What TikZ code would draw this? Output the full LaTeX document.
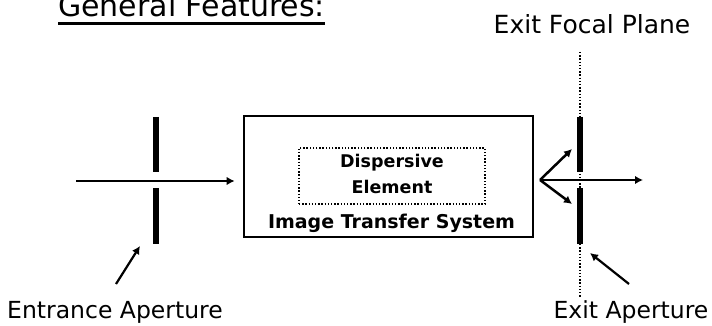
\documentclass[tikz,border=0pt]{standalone}
\usepackage{fontspec}
\setmainfont{DejaVu Sans}
\usetikzlibrary{arrows.meta}
\begin{document}
\begin{tikzpicture}[x=1pt,y=-1pt,
  ray/.style={line width=2.5pt,-{Latex[length=8pt,width=8.5pt]}},
  pointer/.style={line width=2.2pt,-{Latex[length=8pt,width=8.5pt]}},
  slitbar/.style={line width=6pt},
  biglabel/.style={font=\fontsize{23.5}{28}\selectfont, inner sep=0pt},
  boxlabel/.style={font=\fontsize{17.5}{21}\selectfont\bfseries, inner sep=0pt},
  finedots/.style={line width=1.4pt, dash pattern=on 1.4pt off 1.8pt}]
\useasboundingbox (0,0) rectangle (712,326);

% heading
\node[font=\fontsize{30}{36}\selectfont, inner sep=0pt, anchor=base west] (title) at (58,17) {General Features:};
\draw[line width=3pt] ([yshift=-6.5pt]title.base west) -- ([yshift=-6.5pt]title.base east);

% exit focal plane
\node[biglabel, font=\fontsize{25}{30}\selectfont] (efp) at (592,24) {Exit Focal Plane};
\coordinate (planetop) at (580,52);
\coordinate (planebot) at (580,297);
\draw[finedots] (planetop) -- (planebot);

% entrance aperture (slit)
\coordinate (ent1) at (156,117);
\coordinate (ent2) at (156,172);
\coordinate (ent3) at (156,188);
\coordinate (ent4) at (156,244);
\draw[slitbar] (ent1) -- (ent2);
\draw[slitbar] (ent3) -- (ent4);

% exit aperture (slit)
\coordinate (ex1) at (580,117);
\coordinate (ex2) at (580,172);
\coordinate (ex3) at (580,188);
\coordinate (ex4) at (580,244);
\draw[slitbar, line width=5.5pt] (ex1) -- (ex2);
\draw[slitbar, line width=5.5pt] (ex3) -- (ex4);

% image transfer system with the dispersive element inside
\node[draw, line width=2.7pt, minimum width=289pt, minimum height=121pt, inner sep=0pt] (its) at (388.5,176.5) {};
\node[finedots, draw, minimum width=186pt, minimum height=56pt, inner sep=0pt] (disp) at (392,176) {};
\node[boxlabel] (dispA) at (392,163) {Dispersive};
\node[boxlabel] (dispB) at (392,187) {Element};
\node[boxlabel, font=\fontsize{19}{23}\selectfont\bfseries] (itsl) at (391.5,223) {Image Transfer System};

% incoming light
\coordinate (src) at (76,181);
\draw[ray, shorten >=8pt] (src) -- (its.west |- src);

% dispersed light leaving the system
\coordinate (fan) at (540,180);
\coordinate (outC) at (643,180);
\coordinate (outU) at (572,149);
\coordinate (outD) at (572,204);
\draw[ray] (fan) -- (outC);
\draw[ray] (fan) -- (outU);
\draw[ray] (fan) -- (outD);

% labels with pointers
\node[biglabel] (entl) at (115,312) {Entrance Aperture};
\node[biglabel] (exl) at (631,312) {Exit Aperture};
\coordinate (entp) at (116,284);
\coordinate (entt) at (140,246);
\coordinate (exp) at (629,284);
\coordinate (ext) at (590,253);
\draw[pointer] (entp) -- (entt);
\draw[pointer] (exp) -- (ext);
\end{tikzpicture}
\end{document}
